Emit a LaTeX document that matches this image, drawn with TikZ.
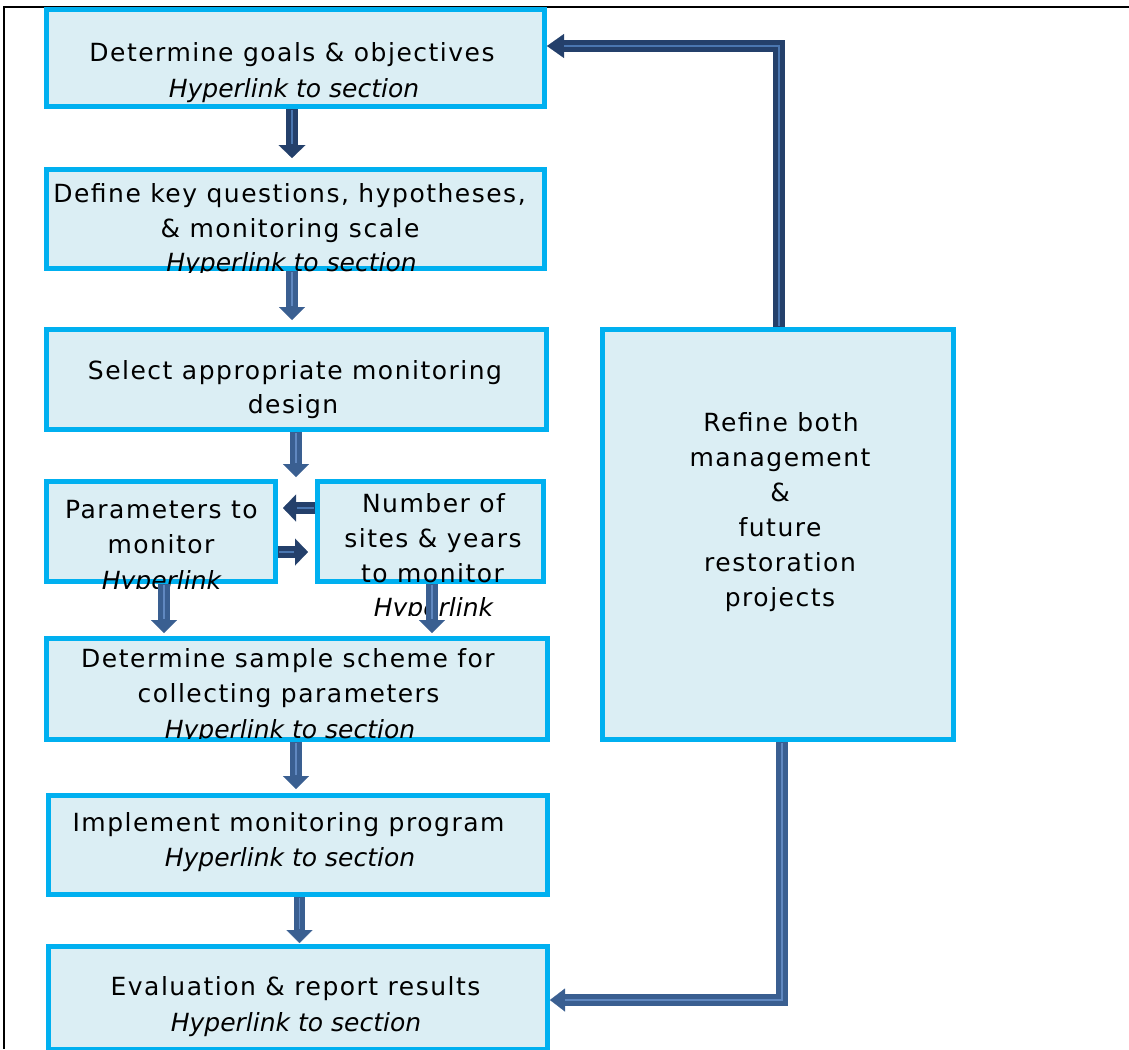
\documentclass[tikz,border=0pt]{standalone}
\usepackage{fontspec}
\setmainfont{DejaVu Sans}
\newfontfamily\lsfont{DejaVu Sans}[LetterSpace=6]
\usetikzlibrary{arrows.meta,calc}
\definecolor{cyanb}{HTML}{00B0F0}
\definecolor{boxfill}{HTML}{DBEEF4}
\definecolor{navy}{HTML}{24406B}
\definecolor{navystripe}{HTML}{4A76B0}
\definecolor{midblue}{HTML}{3A5F91}
\definecolor{midstripe}{HTML}{6088C0}
\tikzset{
  box/.style={draw=cyanb, fill=boxfill, line width=5pt, inner sep=0pt},
  lbl/.style={anchor=base, inner sep=0pt, font=\lsfont\fontsize{25}{30}\selectfont},
  hyp/.style={anchor=base, inner sep=0pt, font=\itshape\fontsize{25}{30}\selectfont},
  flowmid/.style={draw=midblue, line width=11.5pt,
    -{Triangle[width=26pt,length=13pt,line width=0.1pt]},
    postaction={draw=midstripe, line width=1.5pt, -, shorten >=14pt, shorten <=1pt}},
  flowdark/.style={draw=navy, line width=11.5pt,
    -{Triangle[width=27pt,length=13pt,line width=0.1pt]},
    postaction={draw=navystripe, line width=1.8pt, -, shorten >=14pt, shorten <=1pt}},
  fbdark/.style={draw=navy, line width=12.5pt, line join=miter,
    -{Triangle[width=24pt,length=17pt,line width=0.1pt]},
    postaction={draw=navystripe, line width=2.5pt, -, shorten >=17pt, shorten <=1pt}},
  fbmid/.style={draw=midblue, line width=12pt, line join=miter,
    -{Triangle[width=23pt,length=15pt,line width=0.1pt]},
    postaction={draw=midstripe, line width=2.5pt, -, shorten >=15pt, shorten <=1pt}}
}
\begin{document}
\begin{tikzpicture}[x=1pt,y=-1pt]
\useasboundingbox (0,0) rectangle (1129,1049);
% page frame
\draw[line width=2.4pt] (1129,7) -- (4,7) -- (4,1049);

% boxes
\node[box, minimum width=498pt, minimum height=97pt]  (b1) at (295.5,58) {};
\node[box, minimum width=498pt, minimum height=99pt]  (b2) at (295.5,219) {};
\node[box, minimum width=500pt, minimum height=100pt] (b3) at (296.5,379.5) {};
\node[box, minimum width=229pt, minimum height=100pt] (b4) at (161,531.5) {};
\node[box, minimum width=226pt, minimum height=100pt] (b5) at (430.5,531.5) {};
\node[box, minimum width=501pt, minimum height=101pt] (b6) at (297,689) {};
\node[box, minimum width=499pt, minimum height=99pt]  (b7) at (298,845) {};
\node[box, minimum width=499pt, minimum height=103pt] (b8) at (298,998) {};
\node[box, minimum width=351pt, minimum height=410pt] (bR) at (778,534.5) {};

% texts
\node[lbl] (t1a) at (292,62) {Determine goals \& objectives};
\node[hyp] (t1b) at (294,97) {Hyperlink to section};

\node[lbl] (t2a) at (289.5,202) {Define key questions, hypotheses,};
\node[lbl] (t2b) at (290,237) {\& monitoring scale};
\begin{scope}
  \clip (0,0) rectangle (1129,272);
  \node[hyp] (t2c) at (291.5,271) {Hyperlink to section};
\end{scope}

\node[lbl] (t3a) at (295,379) {Select appropriate monitoring};
\node[lbl] (t3b) at (293,413) {design};

\node[lbl] (t4a) at (161.5,518) {Parameters to};
\node[lbl] (t4b) at (161,553) {monitor};
\begin{scope}
  \clip (0,0) rectangle (1129,588.5);
  \node[hyp] (t4c) at (161.5,589) {Hyperlink};
\end{scope}

\node[lbl] (t5a) at (433.5,512) {Number of};
\node[lbl] (t5b) at (433,547) {sites \& years};
\node[lbl] (t5c) at (432.5,582) {to monitor};
\begin{scope}
  \clip (0,0) rectangle (1129,615.5);
  \node[hyp] (t5d) at (433.5,616) {Hyperlink};
\end{scope}

\node[lbl] (t6a) at (288,667) {Determine sample scheme for};
\node[lbl] (t6b) at (288.5,702) {collecting parameters};
\begin{scope}
  \clip (0,0) rectangle (1129,738.5);
  \node[hyp] (t6c) at (290,738) {Hyperlink to section};
\end{scope}

\node[lbl] (t7a) at (288.5,831) {Implement monitoring program};
\node[hyp] (t7b) at (290,866) {Hyperlink to section};

\node[lbl] (t8a) at (295.5,995) {Evaluation \& report results};
\node[hyp] (t8b) at (296,1031) {Hyperlink to section};

\node[lbl] (tRa) at (781,431) {Refine both};
\node[lbl] (tRb) at (780,466) {management};
\node[lbl] (tRc) at (780,501) {\&};
\node[lbl] (tRd) at (780,536) {future};
\node[lbl] (tRe) at (780,571) {restoration};
\node[lbl] (tRf) at (780,606) {projects};

% connectors
\coordinate (split) at ($(b3.south)+(-0.5,45)$);
\draw[flowdark] ($(b1.south)+(-3.5,0)$) -- ($(b2.north)+(-3.5,-9)$);
\draw[flowmid]  ($(b2.south)+(-3.5,0)$) -- ($(b3.north)+(-4.5,-7)$);
\draw[flowmid]  ($(b3.south)+(-0.5,0)$) -- (split);
\draw[flowdark] ($(b5.west)+(0,-23.5)$) -- ($(b4.east)+(5,-23.5)$);
\draw[flowdark] ($(b4.east)+(0,20.5)$) -- ($(b5.west)+(-7,20.5)$);
\draw[flowmid]  ($(b4.south)+(3,0)$) -- ($(b4.south |- b6.north)+(3,-3)$);
\draw[flowmid]  ($(b5.south)+(1.5,0)$) -- ($(b5.south |- b6.north)+(1.5,-3)$);
\draw[flowmid]  ($(b6.south)+(-1,0)$) -- ($(b6.south |- b7.north)+(-1,-4)$);
\draw[flowmid]  ($(b7.south)+(1.5,0)$) -- ($(b7.south |- b8.north)+(1.5,-1)$);
\draw[fbdark]   ($(bR.north)+(1,0)$) |- ($(b1.east)+(0,-12)$);
\draw[fbmid]    ($(bR.south)+(4,0)$) |- ($(b8.east)+(0,2)$);
\end{tikzpicture}
\end{document}
